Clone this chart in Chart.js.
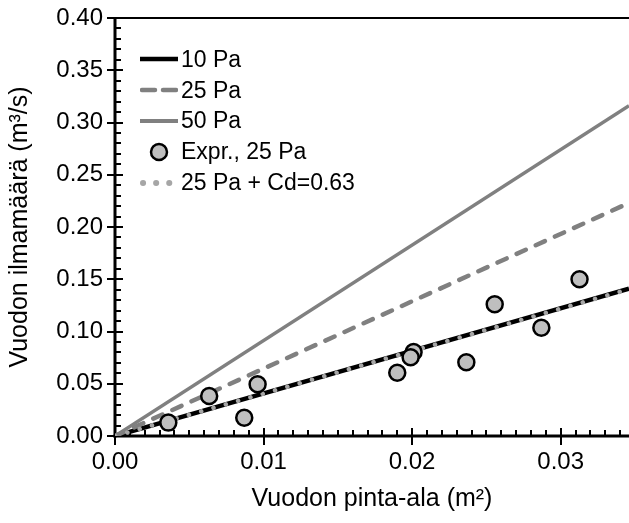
<!DOCTYPE html>
<html>
<head>
<meta charset="utf-8">
<script src="https://cdn.jsdelivr.net/npm/chart.js@4.4.1/dist/chart.umd.min.js"></script>
<style>
  html, body { margin: 0; padding: 0; background: #fff; }
  #wrap { position: relative; width: 629px; height: 523px; }
  #legend { position: absolute; left: 140px; top: 44px; font-family: "Liberation Sans", Arial, sans-serif; font-size: 23px; color: #000; }
  .row { display: flex; align-items: center; height: 30.8px; }
  .row span { margin-left: 3px; white-space: nowrap; }
</style>
</head>
<body>
<div id="wrap">
  <canvas id="c" width="629" height="523"></canvas>
  <div id="legend"></div>
</div>
<script>
// ---- data ----
const seriesLabels = ["10 Pa", "25 Pa", "50 Pa", "Expr., 25 Pa", "25 Pa + Cd=0.63"];
const lineArea = [0, 0.0346];
const flow10 = [0, 0.141];
const flow25 = [0, 0.223];
const flow50 = [0, 0.316];
const flow25cd = [0, 0.1405];
const expArea = [0.00359, 0.00634, 0.0087, 0.0096, 0.0190, 0.0201, 0.0199, 0.02365, 0.02556, 0.0287, 0.03127];
const expFlow = [0.0128, 0.0383, 0.0175, 0.0495, 0.0606, 0.0804, 0.0753, 0.0705, 0.126, 0.1036, 0.150];
const xTickLabels = ["0.00", "0.01", "0.02", "0.03"];
const yTickLabels = ["0.00", "0.05", "0.10", "0.15", "0.20", "0.25", "0.30", "0.35", "0.40"];
const xTitle = "Vuodon pinta-ala (m²)";
const yTitle = "Vuodon ilmamäärä (m³/s)";

const FONT = "'Liberation Sans', Arial, sans-serif";
const GRAY = "#808080";
const DOT = "#a6a6a6";
const FILL = "#bfbfbf";

function pts(xs, ys) { return xs.map((x, i) => ({ x: x, y: ys[i] })); }
function isMajor(v, step) { const r = v / step; return Math.abs(r - Math.round(r)) < 1e-6; }
function noPad(s) { s.paddingTop = 0; s.paddingBottom = 0; s.paddingLeft = 0; s.paddingRight = 0; }

const axesPlugin = {
  id: 'axesPlugin',
  beforeDatasetsDraw(chart) {
    const { ctx, chartArea: a, scales: { x, y } } = chart;
    ctx.save();
    ctx.strokeStyle = '#000';
    ctx.lineCap = 'butt';
    ctx.lineWidth = 2;
    ctx.beginPath(); ctx.moveTo(a.left - 8, a.top); ctx.lineTo(a.right, a.top); ctx.stroke();
    y.ticks.forEach(t => {
      const py = Math.round(y.getPixelForValue(t.value));
      ctx.beginPath();
      if (isMajor(t.value, 0.05)) { ctx.moveTo(a.left - 8, py); ctx.lineTo(a.left + 8, py); }
      else { ctx.moveTo(a.left, py); ctx.lineTo(a.left + 6, py); }
      ctx.stroke();
    });
    x.ticks.forEach(t => {
      const px = Math.round(x.getPixelForValue(t.value));
      ctx.beginPath();
      if (isMajor(t.value, 0.01)) { ctx.moveTo(px, a.bottom - 8); ctx.lineTo(px, a.bottom + 9); }
      else { ctx.moveTo(px, a.bottom); ctx.lineTo(px, a.bottom - 6); }
      ctx.stroke();
    });
    ctx.lineWidth = 3;
    ctx.beginPath(); ctx.moveTo(a.left, a.top - 1); ctx.lineTo(a.left, a.bottom + 1.5); ctx.stroke();
    ctx.beginPath(); ctx.moveTo(a.left - 1.5, a.bottom); ctx.lineTo(a.right, a.bottom); ctx.stroke();
    ctx.restore();
  }
};

const chart = new Chart(document.getElementById('c'), {
  type: 'scatter',
  data: {
    datasets: [
      { label: seriesLabels[0], data: pts(lineArea, flow10), showLine: true, borderColor: '#000', borderWidth: 4.5, pointRadius: 0, order: 5 },
      { label: seriesLabels[1], data: pts(lineArea, flow25), showLine: true, borderColor: GRAY, borderWidth: 4.5, borderDash: [10, 11], borderCapStyle: 'round', pointRadius: 0, order: 4 },
      { label: seriesLabels[2], data: pts(lineArea, flow50), showLine: true, borderColor: GRAY, borderWidth: 3.5, pointRadius: 0, order: 3 },
      { label: seriesLabels[4], data: pts(lineArea, flow25cd), showLine: true, borderColor: DOT, borderWidth: 4.5, borderDash: [0.1, 12.7], borderCapStyle: 'round', pointRadius: 0, order: 2 },
      { label: seriesLabels[3], data: pts(expArea, expFlow), showLine: false, backgroundColor: FILL, borderColor: '#000', borderWidth: 2.5, pointRadius: 8, order: 1 }
    ]
  },
  options: {
    responsive: false,
    animation: false,
    layout: { autoPadding: false, padding: { top: 18, right: 0, left: 0, bottom: 0 } },
    plugins: { legend: { display: false }, tooltip: { enabled: false } },
    scales: {
      x: {
        type: 'linear', min: 0, max: lineArea[1],
        grid: { display: false, drawTicks: false },
        border: { display: false },
        ticks: {
          stepSize: 0.001, autoSkip: false, maxRotation: 0, includeBounds: false, padding: 12,
          color: '#000', font: { family: FONT, size: 24 },
          callback: (v) => isMajor(v, 0.01) ? (xTickLabels[Math.round(v / 0.01)] ?? '') : ''
        },
        title: { display: true, text: xTitle, color: '#000', font: { family: FONT, size: 25 }, padding: { top: 0, bottom: 9 } },
        afterFit: (s) => { s.height = 87; noPad(s); }
      },
      y: {
        type: 'linear', min: 0, max: 0.4,
        grid: { display: false, drawTicks: false },
        border: { display: false },
        ticks: {
          stepSize: 0.01, autoSkip: false, includeBounds: false, padding: 12,
          color: '#000', font: { family: FONT, size: 24 },
          callback: (v) => isMajor(v, 0.05) ? (yTickLabels[Math.round(v / 0.05)] ?? '') : ''
        },
        title: { display: true, text: yTitle, color: '#000', font: { family: FONT, size: 25 }, padding: { top: 5, bottom: 0 } },
        afterFit: (s) => { s.width = 115; noPad(s); }
      }
    }
  },
  plugins: [axesPlugin]
});

// ---- legend (real text) built from the dataset labels ----
const swatches = [
  '<svg width="38" height="30"><line x1="0" y1="15" x2="38" y2="15" stroke="#000" stroke-width="4.5"/></svg>',
  '<svg width="38" height="30"><line x1="2" y1="15" x2="36" y2="15" stroke="' + GRAY + '" stroke-width="4.5" stroke-linecap="round" stroke-dasharray="13 8"/></svg>',
  '<svg width="38" height="30"><line x1="0" y1="15" x2="38" y2="15" stroke="' + GRAY + '" stroke-width="4" /></svg>',
  '<svg width="38" height="30"><circle cx="19" cy="15" r="8" fill="' + FILL + '" stroke="#000" stroke-width="2.5"/></svg>',
  '<svg width="38" height="30"><line x1="3" y1="15" x2="36" y2="15" stroke="' + DOT + '" stroke-width="6" stroke-linecap="round" stroke-dasharray="0.1 13"/></svg>'
];
document.getElementById('legend').innerHTML = seriesLabels.map((l, i) =>
  '<div class="row">' + swatches[i] + '<span>' + l + '</span></div>').join('');
</script>
</body>
</html>
